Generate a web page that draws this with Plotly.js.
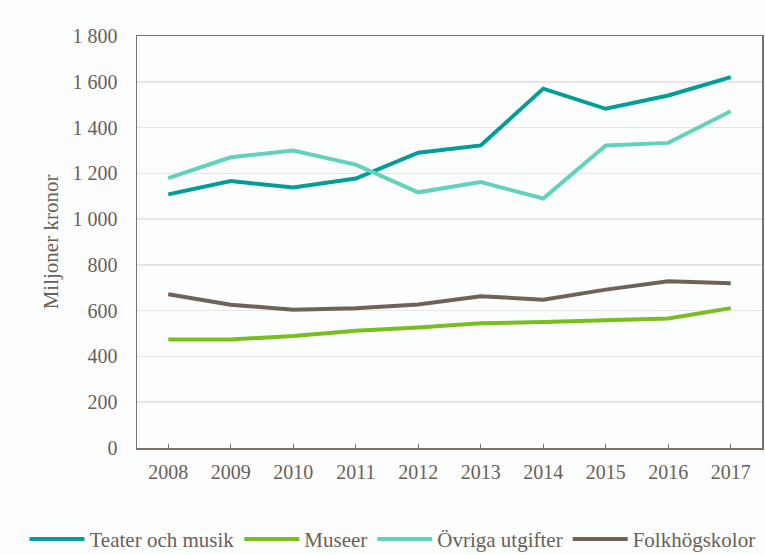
<!DOCTYPE html>
<html>
<head>
<meta charset="utf-8">
<script src="https://cdn.plot.ly/plotly-3.0.1.min.js"></script>
<style>
	html, body { margin: 0; padding: 0; background: #fcfdfd; }
	#grafico { width: 765px; height: 555px; }
</style>
</head>
<body>
<div id="grafico"></div>
<script>
const years = ["2008", "2009", "2010", "2011", "2012", "2013", "2014", "2015", "2016", "2017"];

// Miljoner kronor per år
const teaterMusik = [1108, 1166, 1138, 1177, 1290, 1322, 1570, 1482, 1540, 1620];
const museer = [474, 474, 489, 512, 526, 545, 550, 556, 566, 611];
const ovrigaUtgifter = [1179, 1270, 1300, 1238, 1117, 1162, 1090, 1322, 1333, 1471];
const folkhogskolor = [672, 626, 604, 611, 627, 663, 648, 692, 728, 720];

const seriesNames = ["Teater och musik", "Museer", "Övriga utgifter", "Folkhögskolor"];
const seriesColors = ["#009e96", "#78be1e", "#62d2ba", "#6f6259"];
const seriesData = [teaterMusik, museer, ovrigaUtgifter, folkhogskolor];

const textColor = "#6b5f56";
const fontFamily = "Liberation Serif, Times New Roman, serif";

let traces = seriesData.map((values, i) => ({
	x: years,
	y: values,
	type: "scatter",
	mode: "lines",
	name: seriesNames[i],
	line: { color: seriesColors[i], width: 4 },
}));

let layout = {
	width: 765,
	height: 555,
	paper_bgcolor: "#fcfdfd",
	plot_bgcolor: "#fcfdfd",
	separators: ", ",
	font: { family: fontFamily, size: 20, color: textColor },
	margin: { l: 137, r: 3, t: 36, b: 107, autoexpand: false },
	showlegend: true,
	legend: {
		orientation: "h",
		x: -0.18,
		xanchor: "left",
		y: -0.172,
		yanchor: "top",
		itemwidth: 55,
		font: { family: fontFamily, size: 21, color: textColor },
		bgcolor: "rgba(0,0,0,0)",
		traceorder: "normal",
	},
	xaxis: {
		type: "category",
		range: [-0.5, 9.5],
		showline: true,
		linecolor: "#7b6f66",
		linewidth: 1.5,
		mirror: true,
		ticks: "inside",
		ticklen: 4,
		tickcolor: "#7b6f66",
		showgrid: false,
		ticklabelstandoff: 5,
		tickfont: { family: fontFamily, size: 20, color: textColor },
	},
	yaxis: {
		range: [0, 1800],
		dtick: 200,
		tickformat: ",d",
		showline: true,
		linecolor: "#7b6f66",
		linewidth: 1.5,
		mirror: true,
		showgrid: true,
		gridcolor: "#e8e5e2",
		gridwidth: 1.5,
		zeroline: false,
		ticks: "",
		ticklabelstandoff: 14,
		tickfont: { family: fontFamily, size: 20, color: textColor },
		title: {
			text: "Miljoner kronor",
			font: { family: fontFamily, size: 21, color: textColor },
			standoff: 8,
		},
	},
};

Plotly.newPlot("grafico", traces, layout, { displayModeBar: false, staticPlot: true });
</script>
</body>
</html>
